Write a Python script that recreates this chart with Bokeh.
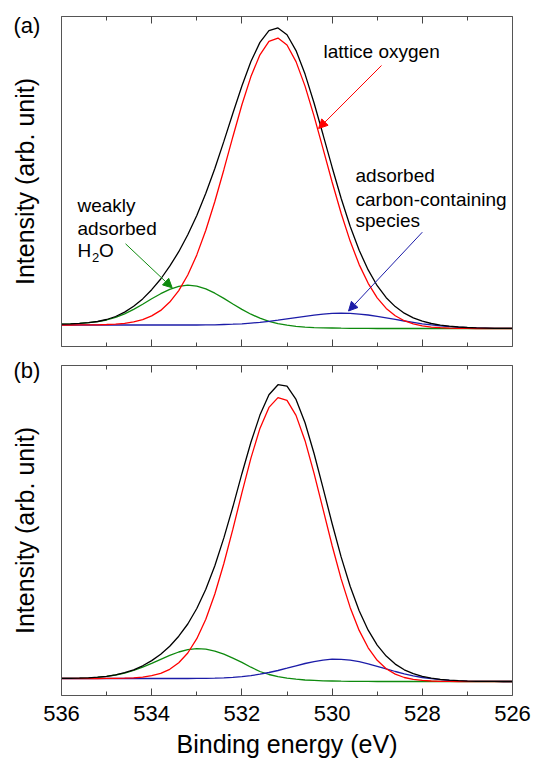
from bokeh.plotting import figure
from bokeh.models import Range1d, LinearAxis, FixedTicker, Label, Arrow, NormalHead
from bokeh.embed import file_html
from bokeh.resources import INLINE

# ---------------- data ----------------
energy = [536.0, 535.8, 535.6, 535.4, 535.2, 535.0, 534.8, 534.6, 534.4, 534.2,
          534.0, 533.8, 533.6, 533.4, 533.2, 533.0, 532.8, 532.6, 532.4, 532.2,
          532.0, 531.8, 531.6, 531.4, 531.2, 531.0, 530.8, 530.6, 530.4, 530.2,
          530.0, 529.8, 529.6, 529.4, 529.2, 529.0, 528.8, 528.6, 528.4, 528.2,
          528.0, 527.8, 527.6, 527.4, 527.2, 527.0, 526.8, 526.6, 526.4, 526.2,
          526.0]

# panel (a)
a_total = [22.4, 22.7, 23.2, 23.9, 25.0, 27.0, 30.0, 34.4, 40.2, 47.6,
           56.8, 67.5, 80.3, 94.8, 111.7, 131.1, 153.2, 178.0, 205.1, 233.2,
           260.5, 285.0, 304.1, 315.9, 318.6, 311.8, 295.9, 272.4, 243.5, 211.7,
           179.3, 148.2, 120.3, 96.2, 76.6, 60.8, 48.8, 39.9, 33.3, 28.7,
           25.3, 23.0, 21.4, 20.3, 19.5, 19.0, 18.6, 18.4, 18.2, 18.1,
           18.1]
a_lattice = [21.5, 21.5, 21.6, 21.6, 21.7, 22.0, 22.4, 23.2, 24.6, 26.9,
             30.6, 36.1, 44.4, 55.9, 71.5, 91.6, 116.2, 145.0, 176.8, 209.8,
             241.7, 269.9, 291.7, 305.1, 308.4, 301.5, 284.9, 260.4, 230.4, 197.6,
             164.5, 133.2, 105.4, 81.9, 63.2, 48.7, 38.1, 30.8, 25.8, 22.6,
             20.6, 19.4, 18.8, 18.4, 18.2, 18.1, 18.0, 18.0, 18.0, 18.0,
             18.0]
a_water = [22.4, 22.7, 23.1, 23.8, 24.8, 26.5, 29.1, 32.7, 37.1, 42.2,
           47.7, 52.8, 57.2, 60.2, 61.3, 60.4, 57.6, 53.3, 48.1, 42.5,
           37.1, 32.3, 28.3, 25.2, 22.9, 21.3, 20.1, 19.4, 18.9, 18.7,
           18.5, 18.3, 18.2, 18.1, 18.1, 18.0, 18.0, 18.0, 18.0, 18.0,
           18.0, 18.0, 18.0, 18.0, 18.0, 18.0, 18.0, 18.0, 18.0, 18.0,
           18.0]
a_carbon = [21.5, 21.5, 21.5, 21.5, 21.5, 21.5, 21.5, 21.5, 21.5, 21.5,
            21.5, 21.5, 21.5, 21.5, 21.5, 21.5, 21.6, 21.7, 22.0, 22.3,
            22.7, 23.4, 24.1, 25.2, 26.3, 27.6, 28.9, 30.2, 31.4, 32.4,
            33.1, 33.3, 33.1, 32.4, 31.5, 30.1, 28.7, 27.1, 25.5, 24.1,
            22.7, 21.6, 20.6, 19.9, 19.3, 18.9, 18.6, 18.4, 18.2, 18.1,
            18.1]

# panel (b)
b_total = [17.1, 17.2, 17.4, 17.7, 18.3, 19.2, 20.6, 22.8, 25.7, 29.7,
           34.9, 41.3, 49.3, 59.3, 71.5, 87.0, 106.2, 129.8, 157.6, 188.7,
           221.8, 253.2, 280.4, 300.7, 310.8, 309.3, 296.1, 272.7, 242.0, 207.3,
           172.0, 138.6, 109.3, 84.8, 65.3, 50.4, 39.4, 31.4, 25.7, 21.8,
           19.1, 17.3, 16.1, 15.3, 14.8, 14.4, 14.2, 14.1, 14.1, 14.0,
           14.0]
b_lattice = [17.0, 17.0, 17.0, 17.0, 17.0, 17.1, 17.2, 17.3, 17.7, 18.4,
             19.8, 22.2, 26.2, 32.7, 42.5, 56.8, 76.3, 101.5, 132.0, 166.3,
             202.6, 237.4, 267.1, 288.1, 297.9, 295.2, 280.1, 254.8, 222.2, 186.1,
             150.0, 116.6, 88.1, 65.1, 47.7, 35.2, 26.8, 21.4, 18.0, 16.1,
             15.1, 14.5, 14.2, 14.1, 14.0, 14.0, 14.0, 14.0, 14.0, 14.0,
             14.0]
b_water = [17.1, 17.2, 17.4, 17.7, 18.2, 19.1, 20.5, 22.4, 25.0, 28.3,
           32.1, 36.2, 40.1, 43.5, 45.8, 46.9, 46.3, 44.4, 41.3, 37.3,
           33.1, 28.3, 24.0, 21.0, 18.9, 17.4, 16.3, 15.5, 15.1, 14.7,
           14.5, 14.3, 14.2, 14.1, 14.1, 14.0, 14.0, 14.0, 14.0, 14.0,
           14.0, 14.0, 14.0, 14.0, 14.0, 14.0, 14.0, 14.0, 14.0, 14.0,
           14.0]
b_carbon = [17.0, 17.0, 17.0, 17.0, 17.0, 17.0, 17.0, 17.0, 17.0, 17.0,
            17.0, 17.0, 17.0, 17.0, 17.0, 17.1, 17.2, 17.4, 17.7, 18.2,
            18.9, 19.9, 21.3, 23.0, 25.0, 27.3, 29.7, 32.0, 33.9, 35.4,
            36.3, 36.1, 35.4, 33.8, 31.7, 29.2, 26.6, 24.0, 21.7, 19.7,
            18.0, 16.8, 15.8, 15.2, 14.7, 14.4, 14.2, 14.1, 14.1, 14.0,
            14.0]

major_ticks = [536, 534, 532, 530, 528, 526]
minor_ticks = [535, 533, 531, 529, 527]
tick_labels = ["536", "534", "532", "530", "528", "526"]

x_title = "Binding energy (eV)"
y_title = "Intensity (arb. unit)"
panel_tags = ["(a)", "(b)"]

# arrows (x_start, y_start, x_end, y_end) in data units of panel (a)
arrow_lattice = (528.905, 281.0, 530.30, 218.0)
arrow_carbon = (528.00, 114.3, 529.636, 35.5)
arrow_water = (534.58, 102.7, 533.546, 58.7)

# ---------------- geometry / style ----------------
W, H = 532, 758
FRAME_L, FRAME_R = 61, 512            # pixel columns of the panel boxes
A_BOTTOM, B_BOTTOM = 346, 695         # pixel rows of the panel bottoms
E_MAX, E_MIN = 536, 526
PX_PER_EV = (FRAME_R - FRAME_L) / (E_MAX - E_MIN)
Y_TOP = 330                            # panel height in data units (1 unit = 1 px)
BASE_FIX = 0.36                        # baseline correction (fraction of font size)

FONT = "Liberation Sans"
C_TOTAL = "#000000"
C_LATTICE = "#ff0000"
C_WATER = "#0e8a0e"
C_CARBON = "#1c1ca8"
FRAME = "#555555"
TICK = "#444444"

x_left = E_MAX + FRAME_L / PX_PER_EV
x_right = E_MIN - (W - FRAME_R) / PX_PER_EV

p = figure(width=W, height=H,
           x_range=Range1d(x_left, x_right),
           y_range=Range1d(-(H - A_BOTTOM), A_BOTTOM),
           x_axis_location=None, y_axis_location=None,
           output_backend="svg", toolbar_location=None,
           min_border_left=0, min_border_right=0, min_border_top=0, min_border_bottom=0)
p.extra_y_ranges = {"b": Range1d(-(H - B_BOTTOM), B_BOTTOM)}
p.grid.visible = False
p.outline_line_color = None
p.background_fill_color = "white"
p.border_fill_color = "white"


def frame_axes(rng, labels):
    for side, loc in (("below", 0), ("above", Y_TOP)):
        ax = LinearAxis(fixed_location=loc, y_range_name=rng, bounds=(E_MIN, E_MAX),
                        ticker=FixedTicker(ticks=major_ticks, minor_ticks=minor_ticks))
        ax.axis_line_color = FRAME
        ax.axis_line_width = 1
        ax.major_tick_in = 7
        ax.major_tick_out = 0
        ax.minor_tick_in = 4
        ax.minor_tick_out = 0
        ax.major_tick_line_color = TICK
        ax.minor_tick_line_color = TICK
        if labels and side == "below":
            ax.major_label_text_font = FONT
            ax.major_label_text_font_size = "22px"
            ax.major_label_text_color = "black"
            ax.major_label_standoff = 10
            ax.major_label_overrides = {t: lab for t, lab in zip(major_ticks, tick_labels)}
        else:
            ax.major_label_text_color = None
        p.add_layout(ax, side)
    for side, loc in (("left", E_MAX), ("right", E_MIN)):
        ax = LinearAxis(fixed_location=loc, y_range_name=rng, bounds=(0, Y_TOP),
                        ticker=FixedTicker(ticks=[]))
        ax.axis_line_color = FRAME
        ax.axis_line_width = 1
        ax.major_tick_line_color = None
        ax.minor_tick_line_color = None
        ax.major_label_text_color = None
        p.add_layout(ax, side)


def draw_curves(rng, total, lattice, water, carbon):
    p.line(energy, water, line_color=C_WATER, line_width=1.3, y_range_name=rng)
    p.line(energy, carbon, line_color=C_CARBON, line_width=1.3, y_range_name=rng)
    p.line(energy, lattice, line_color=C_LATTICE, line_width=1.3, y_range_name=rng)
    p.line(energy, total, line_color=C_TOTAL, line_width=1.3, y_range_name=rng)


def txt(x, y, text, size=19, rng="default", **kw):
    # y is the intended baseline row (data units = px); corrected for the renderer
    p.add_layout(Label(x=x, y=y + BASE_FIX * size, text=text, text_font=FONT,
                       text_font_size=f"{size}px",
                       text_color="black", text_align=kw.pop("align", "left"),
                       text_baseline="alphabetic",
                       y_range_name=rng, **kw))


def vtxt(y, text, size, rng):
    # rotated y title; baseline column at pixel 33
    x = E_MAX + (FRAME_L - 33 + BASE_FIX * size) / PX_PER_EV
    p.add_layout(Label(x=x, y=y, text=text, text_font=FONT, text_font_size=f"{size}px",
                       text_color="black", text_align="center", text_baseline="alphabetic",
                       angle=90, angle_units="deg", y_range_name=rng))


def arrow(coords, color):
    xs, ys, xe, ye = coords
    p.add_layout(Arrow(x_start=xs, y_start=ys, x_end=xe, y_end=ye,
                       line_color=color, line_width=1,
                       end=NormalHead(size=9, fill_color=color, line_color=color,
                                      line_width=1)))


tag_x = E_MAX + (FRAME_L - 13) / PX_PER_EV      # left edge of "(a)"/"(b)"

# ---------------- panel (a) ----------------
frame_axes("default", False)
draw_curves("default", a_total, a_lattice, a_water, a_carbon)
txt(tag_x, 313, panel_tags[0], size=22)
vtxt(Y_TOP / 2, y_title, 25, "default")
txt(530.19, 288, "lattice oxygen")
txt(529.48, 164, "adsorbed")
txt(529.48, 140.5, "carbon-containing")
txt(529.48, 119, "species")
txt(535.645, 134, "weakly")
txt(535.645, 111.5, "adsorbed")
txt(535.645, 88.7, "H")
txt(535.645, 84.2, "2", size=13, x_offset=14.5)
txt(535.645, 88.7, "O", x_offset=21.5)
arrow(arrow_lattice, C_LATTICE)
arrow(arrow_carbon, C_CARBON)
arrow(arrow_water, C_WATER)

# ---------------- panel (b) ----------------
frame_axes("b", True)
draw_curves("b", b_total, b_lattice, b_water, b_carbon)
txt(tag_x, 317, panel_tags[1], size=22, rng="b")
vtxt(Y_TOP / 2, y_title, 25, "b")
txt(531, -57, x_title, size=25, rng="b", align="center")

open("out.html", "w").write(file_html(p, INLINE))
